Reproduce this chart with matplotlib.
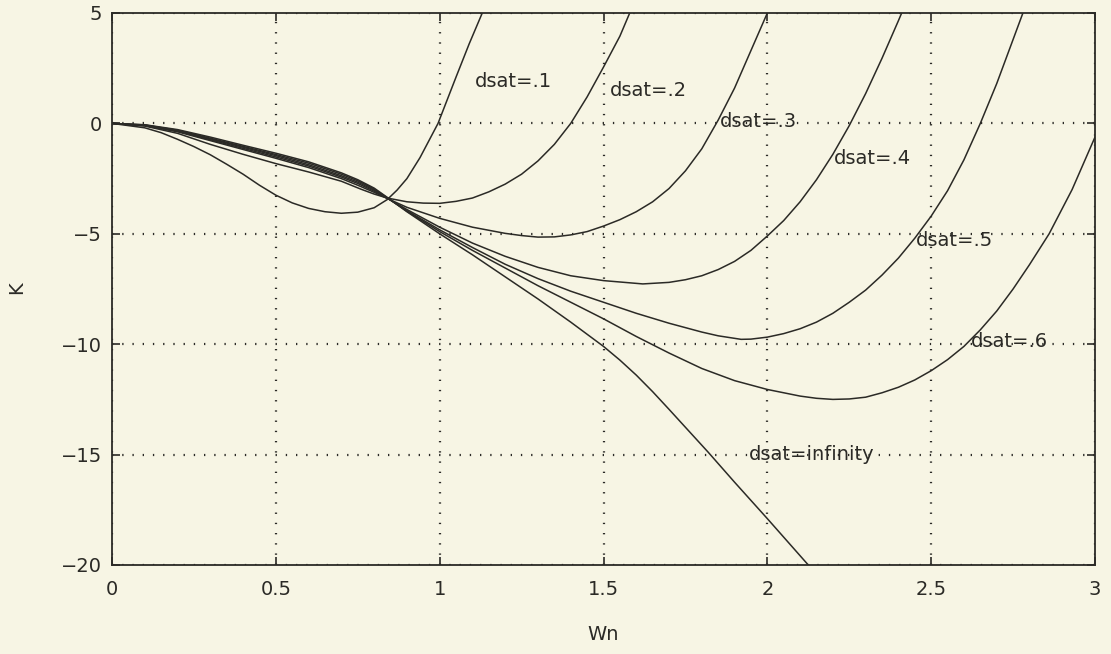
import matplotlib
matplotlib.use("Agg")
import matplotlib.pyplot as plt

# K versus Wn for several saturation levels (dsat)
wn_d1 = [0, 0.1, 0.15, 0.2, 0.25, 0.3, 0.35, 0.4, 0.45, 0.5, 0.55, 0.6, 0.65, 0.7, 0.75,
         0.8, 0.84, 0.87, 0.9, 0.94, 0.995, 1.05, 1.09, 1.13]
k_d1 = [0, -0.2, -0.42, -0.72, -1.05, -1.42, -1.85, -2.3, -2.8, -3.25, -3.6, -3.85, -4.0,
        -4.07, -4.02, -3.82, -3.45, -3.02, -2.5, -1.55, 0.0, 2.1, 3.6, 5.0]

wn_d2 = [0, 0.1, 0.2, 0.3, 0.4, 0.5, 0.6, 0.7, 0.76, 0.8, 0.84, 0.9, 0.95, 1.0, 1.05, 1.1,
         1.15, 1.2, 1.25, 1.3, 1.35, 1.4, 1.45, 1.5, 1.55, 1.58]
k_d2 = [0, -0.12, -0.45, -0.95, -1.4, -1.82, -2.2, -2.62, -2.98, -3.2, -3.38, -3.55, -3.61,
        -3.62, -3.53, -3.38, -3.1, -2.75, -2.3, -1.7, -0.95, 0.0, 1.2, 2.55, 3.95, 5.0]

wn_d3 = [0, 0.1, 0.2, 0.3, 0.4, 0.5, 0.6, 0.7, 0.75, 0.8, 0.84, 0.9, 1.0, 1.1, 1.2, 1.25,
         1.3, 1.35, 1.4, 1.45, 1.5, 1.55, 1.6, 1.65, 1.7, 1.75, 1.8, 1.85, 1.9, 1.95, 2.0]
k_d3 = [0, -0.1, -0.38, -0.78, -1.18, -1.58, -2.0, -2.5, -2.8, -3.12, -3.4, -3.8, -4.3,
        -4.7, -4.98, -5.08, -5.15, -5.14, -5.05, -4.9, -4.65, -4.36, -4.0, -3.55, -2.95,
        -2.15, -1.15, 0.15, 1.6, 3.3, 5.0]

wn_d4 = [0, 0.1, 0.2, 0.3, 0.4, 0.5, 0.6, 0.7, 0.75, 0.8, 0.84, 0.9, 1.0, 1.1, 1.2, 1.3,
         1.4, 1.5, 1.62, 1.7, 1.75, 1.8, 1.85, 1.9, 1.95, 2.0, 2.05, 2.1, 2.15, 2.2, 2.25,
         2.3, 2.35, 2.4, 2.41]
k_d4 = [0, -0.09, -0.35, -0.74, -1.13, -1.52, -1.93, -2.43, -2.72, -3.07, -3.39, -3.9, -4.7,
        -5.42, -6.02, -6.52, -6.9, -7.12, -7.27, -7.2, -7.08, -6.9, -6.62, -6.25, -5.75,
        -5.1, -4.4, -3.55, -2.55, -1.4, -0.1, 1.35, 2.95, 4.65, 5.0]

wn_d5 = [0, 0.1, 0.2, 0.3, 0.4, 0.5, 0.6, 0.7, 0.75, 0.8, 0.84, 0.9, 1.0, 1.1, 1.2, 1.3,
         1.4, 1.5, 1.6, 1.7, 1.8, 1.85, 1.92, 1.95, 2.0, 2.05, 2.1, 2.15, 2.2, 2.25, 2.3,
         2.35, 2.4, 2.45, 2.5, 2.55, 2.6, 2.65, 2.7, 2.75, 2.78]
k_d5 = [0, -0.08, -0.33, -0.7, -1.08, -1.46, -1.87, -2.37, -2.66, -3.02, -3.38, -3.95, -4.82,
        -5.62, -6.38, -7.03, -7.6, -8.1, -8.6, -9.05, -9.45, -9.62, -9.78, -9.77, -9.68,
        -9.52, -9.3, -9.0, -8.6, -8.1, -7.55, -6.87, -6.1, -5.2, -4.2, -3.05, -1.65, 0.0,
        1.8, 3.8, 5.0]

wn_d6 = [0, 0.1, 0.2, 0.3, 0.4, 0.5, 0.6, 0.7, 0.75, 0.8, 0.84, 0.9, 1.0, 1.1, 1.2, 1.3,
         1.4, 1.5, 1.6, 1.7, 1.8, 1.9, 2.0, 2.1, 2.15, 2.2, 2.25, 2.3, 2.35, 2.4, 2.45,
         2.5, 2.55, 2.6, 2.65, 2.7, 2.75, 2.8, 2.86, 2.93, 3.0]
k_d6 = [0, -0.07, -0.31, -0.67, -1.04, -1.41, -1.8, -2.3, -2.6, -2.97, -3.37, -3.98, -4.9,
        -5.75, -6.55, -7.35, -8.1, -8.85, -9.65, -10.4, -11.1, -11.65, -12.05, -12.35,
        -12.45, -12.5, -12.48, -12.4, -12.2, -11.95, -11.62, -11.2, -10.7, -10.1, -9.35,
        -8.5, -7.5, -6.4, -5.0, -3.0, -0.62]

wn_inf = [0, 0.1, 0.2, 0.3, 0.4, 0.5, 0.6, 0.7, 0.75, 0.8, 0.84, 0.9, 1.0, 1.1, 1.2, 1.3,
          1.4, 1.5, 1.55, 1.6, 1.65, 1.7, 1.82, 1.9, 2.0, 2.125]
k_inf = [0, -0.06, -0.28, -0.62, -0.99, -1.35, -1.74, -2.24, -2.55, -2.93, -3.35, -4.0, -5.0,
         -5.95, -6.95, -7.95, -9.0, -10.1, -10.72, -11.4, -12.15, -12.95, -14.9, -16.25,
         -17.9, -20.0]

# curve labels: text and where each one sits
label_text = ["dsat=.1", "dsat=.2", "dsat=.3", "dsat=.4", "dsat=.5", "dsat=.6", "dsat=infinity"]
label_x = [1.107, 1.518, 1.854, 2.204, 2.454, 2.622, 1.945]
label_y = [1.88, 1.47, 0.1, -1.6, -5.3, -9.9, -15.0]

xticks = [0, 0.5, 1, 1.5, 2, 2.5, 3]
xtick_labels = ["0", "0.5", "1", "1.5", "2", "2.5", "3"]
yticks = [5, 0, -5, -10, -15, -20]

bg = "#f7f5e4"
ink = "#2b2a26"

fig = plt.figure(figsize=(11.11, 6.54), dpi=100, facecolor=bg)
ax = fig.add_axes([112 / 1111, 1 - 565 / 654, (1095 - 112) / 1111, (565 - 13) / 654])
ax.set_facecolor(bg)

curves = [(wn_d1, k_d1), (wn_d2, k_d2), (wn_d3, k_d3), (wn_d4, k_d4),
          (wn_d5, k_d5), (wn_d6, k_d6), (wn_inf, k_inf)]
for wn, k in curves:
    ax.plot(wn, k, color=ink, lw=1.1, solid_joinstyle="round", zorder=3)

for txt, tx, ty in zip(label_text, label_x, label_y):
    ax.text(tx, ty, txt, fontsize=14, color=ink, ha="left", va="center", zorder=4)

ax.set_xlim(0, 3)
ax.set_ylim(-20, 5)
ax.set_xticks(xticks)
ax.set_xticklabels(xtick_labels)
ax.set_yticks(yticks)

ax.grid(True, color=ink, lw=1.6, linestyle=(0, (0.6, 4.0)), zorder=1)
ax.tick_params(direction="in", length=6, width=1.2, colors=ink, labelsize=14,
               top=True, right=True)
ax.tick_params(axis="x", pad=11)
ax.tick_params(axis="y", pad=7)
for s in ax.spines.values():
    s.set_color(ink)
    s.set_linewidth(1.3)

fig.text(17 / 1111, 1 - 288 / 654, "K", rotation=90, fontsize=14, color=ink,
         ha="center", va="center")
fig.text(603 / 1111, 1 - 635 / 654, "Wn", fontsize=14, color=ink,
         ha="center", va="center")

fig.savefig("out.png", dpi=100, facecolor=bg)
